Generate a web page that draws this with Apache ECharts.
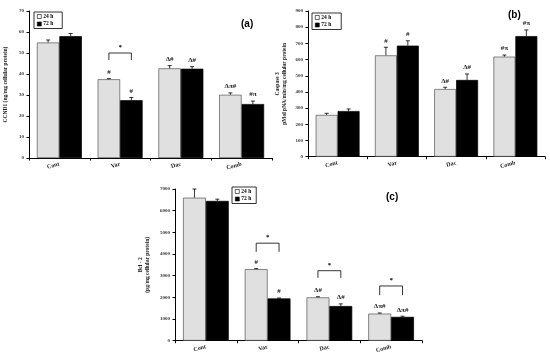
<!DOCTYPE html>
<html>
<head>
<meta charset="utf-8">
<script src="https://cdn.jsdelivr.net/npm/echarts@6/dist/echarts.min.js"></script>
<style>html,body{margin:0;padding:0;background:#fff;}#c{width:550px;height:357px;}</style>
</head>
<body>
<div id="c"></div>
<script>
const categories = ['Cont', 'Var', 'Dac', 'Comb'];

// (a) CCND1 (ng/mg cellular protein)
const ccnd1_24 = [55, 37.5, 42.7, 30.1];
const ccnd1_24_err = [1.2, 0.3, 1.3, 0.9];
const ccnd1_72 = [58, 27.5, 42.5, 25.7];
const ccnd1_72_err = [1.3, 1.3, 1.0, 1.4];
const ccnd1_24_lbl = ['', '#', 'Δ#', 'Δπ#'];
const ccnd1_72_lbl = ['', '#', 'Δ#', '#π'];
const ccnd1_ticks = [0, 70, 10];
// bracket: [category index, top value, leg end value]
const ccnd1_brackets = [[1, 50, 46.7]];

// (b) Caspase 3
const casp_24 = [258, 626, 418, 618];
const casp_24_err = [10, 50, 11, 10];
const casp_72 = [282, 686, 474, 745];
const casp_72_err = [13, 30, 37, 38];
const casp_24_lbl = ['', '#', 'Δ#', '#π'];
const casp_72_lbl = ['', '#', 'Δ#', '#π'];
const casp_ticks = [0, 900, 100];

// (c) Bcl-2
const bcl_24 = [6600, 3300, 2000, 1250];
const bcl_24_err = [400, 30, 30, 30];
const bcl_72 = [6450, 1950, 1600, 1100];
const bcl_72_err = [80, 20, 100, 30];
const bcl_24_lbl = ['', '#', 'Δ#', 'Δπ#'];
const bcl_72_lbl = ['', '#', 'Δ#', 'Δπ#'];
const bcl_ticks = [0, 7000, 1000];
const bcl_brackets = [[1, 4500, 4100], [2, 3230, 2900], [3, 2525, 2100]];

const seriesNames = ['24 h', '72 h'];

const GAP = 0.26;
const LIGHT = '#e0e0e0';
const DARK = '#000000';
const serif = 'Liberation Serif';

function errSeries(idx, vals, errs, lbls, side) {
  return {
    type: 'custom', xAxisIndex: idx, yAxisIndex: idx, z: 5, silent: true,
    data: vals.map((v, i) => [i, v, errs[i]]),
    renderItem: function (params, api) {
      const c = api.value(0), v = api.value(1), e = api.value(2);
      const cw = api.size([1, 0])[0];
      const bw = cw * (1 - GAP) / 2;
      const b = api.coord([c, v]);
      const t = api.coord([c, v + e]);
      const x = b[0] + side * bw / 2;
      const children = [
        { type: 'line', shape: { x1: x, y1: b[1], x2: x, y2: t[1] }, style: { stroke: '#000', lineWidth: 0.8 } },
        { type: 'line', shape: { x1: x - 2, y1: t[1], x2: x + 2, y2: t[1] }, style: { stroke: '#000', lineWidth: 0.8 } }
      ];
      const txt = lbls[params.dataIndex];
      if (txt) {
        children.push({ type: 'text', style: { text: txt, x: x, y: t[1] - 3, align: 'center', verticalAlign: 'bottom',
          font: 'bold 7px "' + serif + '"', fill: '#222' } });
      }
      return { type: 'group', children: children };
    }
  };
}

function bracketSeries(idx, brackets) {
  return {
    type: 'custom', xAxisIndex: idx, yAxisIndex: idx, z: 6, silent: true,
    data: brackets,
    renderItem: function (params, api) {
      const c = api.value(0), top = api.value(1), leg = api.value(2);
      const cw = api.size([1, 0])[0];
      const bw = cw * (1 - GAP) / 2;
      const p = api.coord([c, top]);
      const q = api.coord([c, leg]);
      const x1 = p[0] - bw / 2, x2 = p[0] + bw / 2;
      return { type: 'group', children: [
        { type: 'polyline', shape: { points: [[x1, q[1]], [x1, p[1]], [x2, p[1]], [x2, q[1]]] }, style: { stroke: '#000', lineWidth: 0.8, fill: null } },
        { type: 'text', style: { text: '*', x: p[0], y: p[1] - 2, align: 'center', verticalAlign: 'bottom', font: 'bold 7px "' + serif + '"', fill: '#000' } }
      ] };
    }
  };
}

function barSeries(idx, name, vals, color) {
  return {
    type: 'bar', name: name, xAxisIndex: idx, yAxisIndex: idx, data: vals,
    barGap: '0%', barCategoryGap: (GAP * 100) + '%',
    itemStyle: { color: color, borderColor: color === DARK ? '#000' : '#555', borderWidth: 0.7 },
    emphasis: { disabled: true }, silent: true
  };
}

function xAxis(idx) {
  return {
    type: 'category', gridIndex: idx, data: categories,
    axisLine: { lineStyle: { color: '#000', width: 1 } },
    axisTick: { show: true, length: 2.5, lineStyle: { color: '#000' } },
    axisLabel: { rotate: 15, margin: 6, fontSize: 6, fontWeight: 'bold', fontFamily: serif, color: '#222' }
  };
}

function yAxis(idx, ticks, name, gap) {
  return {
    type: 'value', gridIndex: idx, min: ticks[0], max: ticks[1], interval: ticks[2],
    splitLine: { show: false },
    axisLine: { show: true, lineStyle: { color: '#000', width: 1 } },
    axisTick: { show: true, length: 2.5, lineStyle: { color: '#000' } },
    axisLabel: { fontSize: 5, fontWeight: 'bold', fontFamily: serif, color: '#333', margin: 5,
      formatter: function (v) { return String(v); } },
    name: name, nameLocation: 'middle', nameRotate: 90, nameGap: gap,
    nameTextStyle: { fontSize: 5.5, fontWeight: 'bold', fontFamily: serif, color: '#222', lineHeight: 7 }
  };
}

function legend(left, top, padRight) {
  return {
    left: left, top: top, orient: 'vertical',
    data: [
      { name: seriesNames[0], itemStyle: { color: '#fff', borderColor: '#000', borderWidth: 0.6 } },
      { name: seriesNames[1], itemStyle: { color: '#000', borderColor: '#000', borderWidth: 0.6 } }
    ],
    itemWidth: 4, itemHeight: 4, itemGap: 1.5, padding: [1.5, padRight, 1.5, 3],
    borderColor: '#000', borderWidth: 0.8, selectedMode: false,
    icon: 'rect',
    textStyle: { fontSize: 5.5, fontWeight: 'bold', fontFamily: serif, color: '#000', padding: [0, 0, 0, -3] }
  };
}

const chart = echarts.init(document.getElementById('c'), null, { renderer: 'canvas' });
chart.setOption({
  backgroundColor: '#fff',
  animation: false,
  grid: [
    { left: 29, top: 11, width: 243, height: 147 },
    { left: 308, top: 11, width: 237, height: 145.7 },
    { left: 175, top: 189, width: 247, height: 151.7 }
  ],
  xAxis: [xAxis(0), xAxis(1), xAxis(2)],
  yAxis: [
    yAxis(0, ccnd1_ticks, 'CCND1 (ng/mg cellular protein)', 20),
    yAxis(1, casp_ticks, 'Caspase 3\npMol pNA/min/mg cellular protein', 20),
    yAxis(2, bcl_ticks, 'Bcl - 2\n(pg/mg cellular protein)', 24)
  ],
  legend: [legend(34, 12, 9), legend(312, 13, 10), legend(232, 187, 5)],
  series: [
    barSeries(0, seriesNames[0], ccnd1_24, LIGHT), barSeries(0, seriesNames[1], ccnd1_72, DARK),
    errSeries(0, ccnd1_24, ccnd1_24_err, ccnd1_24_lbl, -1), errSeries(0, ccnd1_72, ccnd1_72_err, ccnd1_72_lbl, 1),
    bracketSeries(0, ccnd1_brackets),
    barSeries(1, seriesNames[0], casp_24, LIGHT), barSeries(1, seriesNames[1], casp_72, DARK),
    errSeries(1, casp_24, casp_24_err, casp_24_lbl, -1), errSeries(1, casp_72, casp_72_err, casp_72_lbl, 1),
    barSeries(2, seriesNames[0], bcl_24, LIGHT), barSeries(2, seriesNames[1], bcl_72, DARK),
    errSeries(2, bcl_24, bcl_24_err, bcl_24_lbl, -1), errSeries(2, bcl_72, bcl_72_err, bcl_72_lbl, 1),
    bracketSeries(2, bcl_brackets)
  ],
  graphic: [
    { type: 'text', left: 241, top: 19, style: { text: '(a)', font: 'bold 10px "Liberation Sans"', fill: '#000' } },
    { type: 'text', left: 508, top: 10, style: { text: '(b)', font: 'bold 10px "Liberation Sans"', fill: '#000' } },
    { type: 'text', left: 386, top: 192, style: { text: '(c)', font: 'bold 10px "Liberation Sans"', fill: '#000' } }
  ]
});
</script>
</body>
</html>
